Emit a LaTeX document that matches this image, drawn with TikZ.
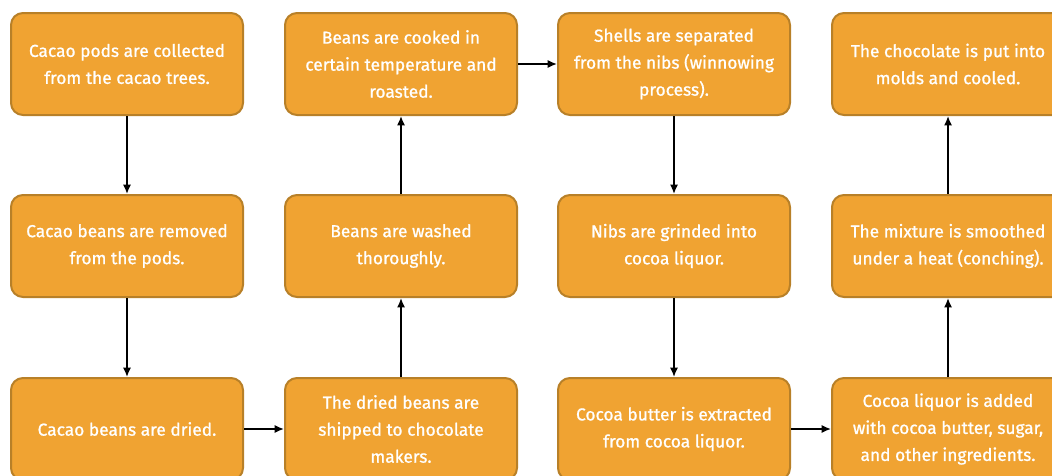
\documentclass[tikz,border=0pt]{standalone}
\usepackage{fontspec}
\usetikzlibrary{arrows.meta}
\newfontfamily\boxfont{Fira Sans}[FakeBold=1]
\definecolor{cocoafill}{RGB}{240,163,50}
\definecolor{cocoaedge}{RGB}{184,128,40}
\tikzset{
  stepbox/.style={draw=cocoaedge, line width=1.5pt, fill=cocoafill, rounded corners=9pt,
    minimum width=174pt, minimum height=76.5pt, align=center,
    text=white, font=\boxfont\fontsize{13}{20.25}\selectfont},
  flow/.style={-{Latex[length=7pt,width=6pt]}, line width=1.2pt}
}
\begin{document}
\begin{tikzpicture}[x=0.75pt, y=-0.75pt]
	\useasboundingbox (0,0) rectangle (1052,475);
	\clip (0,0) rectangle (1052,475);
	%first column
	\node[stepbox] (collect) at (127,64) {Cacao pods are collected\\from the cacao trees.};
	\node[stepbox] (remove) at (127,246) {Cacao beans are removed\\from the pods.};
	\node[stepbox] (dry) at (127,429) {Cacao beans are dried.};
	%second column
	\node[stepbox] (ship) at (401,429) {The dried beans are\\shipped to chocolate\\makers.};
	\node[stepbox] (wash) at (401,246) {Beans are washed\\thoroughly.};
	\node[stepbox] (roast) at (401,64) {Beans are cooked in\\certain temperature and\\roasted.};
	%third column
	\node[stepbox] (winnow) at (674,64) {Shells are separated\\from the nibs (winnowing\\process).};
	\node[stepbox] (grind) at (674,246) {Nibs are grinded into\\cocoa liquor.};
	\node[stepbox] (butter) at (674,429) {Cocoa butter is extracted\\from cocoa liquor.};
	%fourth column
	\node[stepbox] (mix) at (948,429) {Cocoa liquor is added\\with cocoa butter, sugar,\\and other ingredients.};
	\node[stepbox] (conch) at (948,246) {The mixture is smoothed\\under a heat (conching).};
	\node[stepbox] (mold) at (948,64) {The chocolate is put into\\molds and cooled.};
	
	%arrows
	\foreach \from/\to in {collect/remove, remove/dry, ship/wash, wash/roast, winnow/grind, grind/butter, mix/conch, conch/mold}
	\draw[flow] (\from) -- (\to);
	\draw[flow] (dry) -- (ship);
	\draw[flow] (roast.east) -- (winnow.west);
	\draw[flow] (butter) -- (mix);
\end{tikzpicture}
\end{document}
